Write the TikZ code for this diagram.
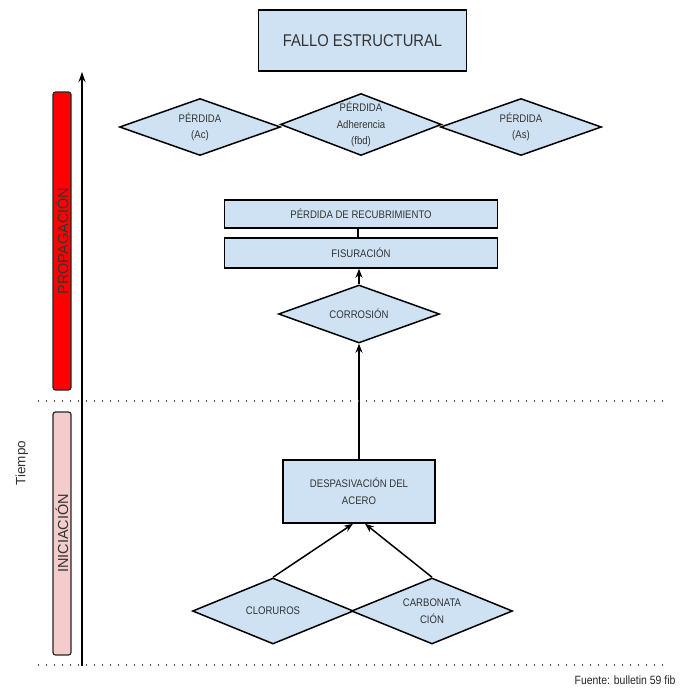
\documentclass[tikz,border=0pt]{standalone}
\usepackage{fontspec}
\setmainfont[FakeStretch=0.87]{Liberation Sans}
\newfontfamily\widefont{Liberation Sans}
\usetikzlibrary{shapes.geometric,arrows.meta}
\definecolor{boxblue}{HTML}{CFE2F3}
\definecolor{txtgray}{HTML}{333333}
\definecolor{barred}{HTML}{FF0000}
\definecolor{barpink}{HTML}{F4CCCC}
\begin{document}
\begin{tikzpicture}[x=1pt,y=-1pt,
  every node/.style={text=txtgray,font=\fontsize{11}{16.5}\selectfont,align=center},
  bluebox/.style={draw=black,fill=boxblue,line width=1.5pt,rectangle,inner sep=0pt},
  bluediam/.style={draw=black,fill=boxblue,line width=1.5pt,diamond,aspect=2.6,inner xsep=0pt,inner ysep=-4pt,minimum width=161pt},
  bar/.style={draw=black!85,line width=1.2pt,rounded corners=2.5pt,rectangle,inner sep=0pt,minimum height=18pt,rotate=90,font=\widefont\fontsize{14.5}{16}\selectfont},
  conn/.style={line width=1.5pt},
  arr/.style={line width=1.5pt,-{Stealth[length=9pt,width=7pt]}},
  dots/.style={line width=1.4pt,black!65,dash pattern=on 1.4pt off 6.6pt}]
\useasboundingbox (0,0) rectangle (681,688);
% title
\node[bluebox,minimum width=208pt,minimum height=61pt,font=\fontsize{17}{20}\selectfont] (fallo) at (362.5,40.5) {FALLO ESTRUCTURAL};
% top diamonds
\node[bluediam,minimum height=57pt] (ac) at (200,127) {PÉRDIDA\\(Ac)};
\node[bluediam,minimum height=62pt] (fbd) at (361,124.5) {PÉRDIDA\\Adherencia\\(fbd)};
\node[bluediam,minimum height=57pt] (as) at (521,127) {PÉRDIDA\\(As)};
% rectangles
\node[bluebox,minimum width=273pt,minimum height=28pt] (recub) at (361,214) {PÉRDIDA DE RECUBRIMIENTO};
\node[bluebox,minimum width=273pt,minimum height=30pt] (fis) at (361,253) {FISURACIÓN};
\node[bluediam,minimum height=58pt] (corr) at (359,314) {CORROSIÓN};
\node[bluebox,minimum width=152pt,minimum height=63pt] (desp) at (359,491.5) {DESPASIVACIÓN DEL\\ACERO};
\node[bluediam,minimum height=66pt] (clor) at (273,611) {CLORUROS};
\node[bluediam,minimum height=66pt] (carb) at (432,611) {CARBONATA\\CIÓN};
% connectors
\draw[conn] (recub.south -| 358,0) -- (fis.north -| 358,0);
\draw[arr] (corr.north) -- (fis.south -| corr.north);
\draw[arr] (desp.north -| corr.south) -- (corr.south);
\draw[arr] (clor.north) -- ([xshift=-6pt]desp.south);
\draw[arr] (carb.north) -- ([xshift=6pt]desp.south);
% left side
\node[bar,fill=barred,minimum width=298pt] (prop) at (62,241) {PROPAGACIÓN};
\node[bar,fill=barpink,minimum width=243pt] (inic) at (62,533.5) {INICIACIÓN};
\coordinate (tbot) at (82,666);
\coordinate (ttop) at (82,72);
\draw[line width=1.5pt,-{Stealth[length=10pt,width=7pt]}] (tbot) -- (ttop);
\node[rotate=90,font=\widefont\fontsize{13.5}{15}\selectfont] (tiempo) at (22,463) {Tiempo};
\coordinate (d1a) at (38,401);
\coordinate (d1b) at (668,401);
\coordinate (d2a) at (38,665);
\coordinate (d2b) at (668,665);
\draw[dots] (d1a) -- (d1b);
\draw[dots] (d2a) -- (d2b);
\node[anchor=east,font=\fontsize{12}{14}\selectfont,text=black!85] (fuente) at (679,680) {Fuente: bulletin 59 fib};
\end{tikzpicture}
\end{document}
